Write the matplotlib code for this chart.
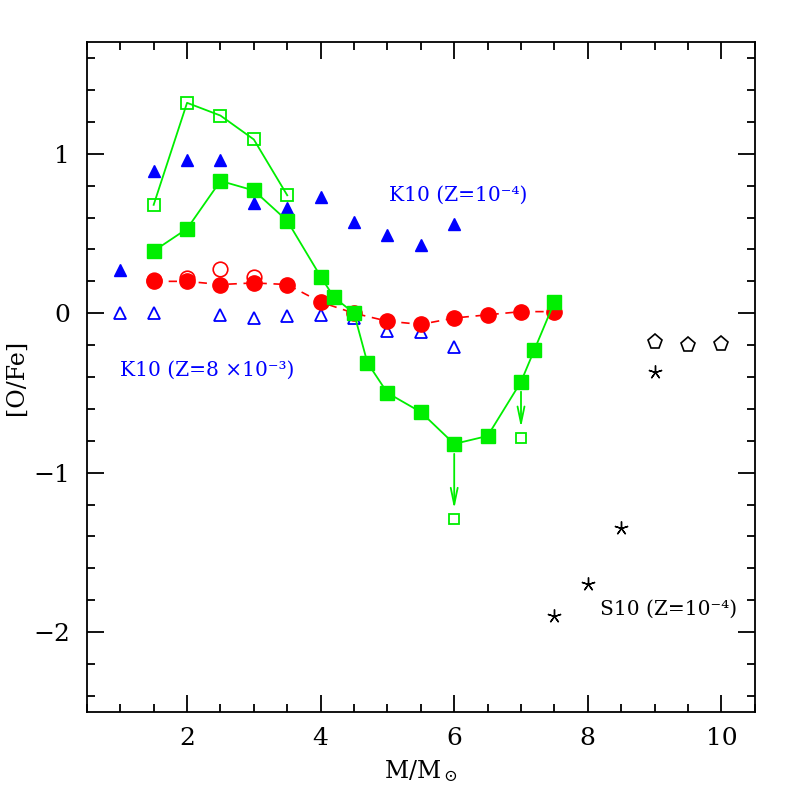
import numpy as np
import matplotlib
matplotlib.use("Agg")
import matplotlib.pyplot as plt
from matplotlib.ticker import MultipleLocator

plt.rcParams['font.family'] = ['DejaVu Serif']
plt.rcParams['mathtext.fontset'] = 'dejavuserif'

# green filled squares (joined)
m_gf = [1.5, 2, 2.5, 3, 3.5, 4, 4.2, 4.5, 4.7, 5, 5.5, 6, 6.5, 7, 7.2, 7.5]
o_gf = [0.39, 0.53, 0.83, 0.77, 0.58, 0.23, 0.10, 0.00, -0.31, -0.50, -0.62, -0.82, -0.77, -0.43, -0.23, 0.07]
# green open squares (joined)
m_go = [1.5, 2, 2.5, 3, 3.5]
o_go = [0.68, 1.32, 1.24, 1.09, 0.74]
# upper limits with arrows
m_lim = [6, 7]
o_lim_from = [-0.82, -0.43]
o_lim = [-1.29, -0.78]
# K10 Z=1e-4 (filled blue triangles)
m_bf = [1, 1.5, 2, 2.5, 3, 3.5, 4, 4.5, 5, 5.5, 6]
o_bf = [0.27, 0.89, 0.96, 0.96, 0.69, 0.66, 0.73, 0.57, 0.49, 0.43, 0.56]
# K10 Z=8e-3 (open blue triangles)
m_bo = [1, 1.5, 2.5, 3, 3.5, 4, 4.5, 5, 5.5, 6]
o_bo = [0.00, 0.00, -0.01, -0.03, -0.02, -0.01, -0.03, -0.11, -0.12, -0.21]
# red filled circles (dashed)
m_rf = [1.5, 2, 2.5, 3, 3.5, 4, 4.5, 5, 5.5, 6, 6.5, 7, 7.5]
o_rf = [0.20, 0.20, 0.18, 0.19, 0.18, 0.07, 0.00, -0.05, -0.07, -0.03, -0.01, 0.01, 0.01]
# red open circles
m_ro = [1.5, 2, 2.5, 3]
o_ro = [0.21, 0.22, 0.28, 0.23]
# S10 stars and pentagons
m_st = [7.5, 8, 8.5, 9]
o_st = [-1.90, -1.70, -1.35, -0.37]
m_pe = [9, 9.5, 10]
o_pe = [-0.18, -0.20, -0.19]

green = '#00ee00'
blue = '#0000ff'
red = '#ff0000'

fig = plt.figure(figsize=(7.97, 7.97), dpi=100)
ax = fig.add_axes([0.109, 0.107, 0.838, 0.840])

ax.plot(m_rf, o_rf, color=red, ls=(0, (5, 4)), lw=1.2, marker='o', ms=11, mfc=red, mec=red, zorder=3)
ax.plot(m_ro, o_ro, ls='none', marker='o', ms=10.5, mfc='none', mec=red, mew=1.2, zorder=3)
ax.plot(m_gf, o_gf, color=green, lw=1.3, marker='s', ms=10, mfc=green, mec=green, zorder=4)
ax.plot(m_go, o_go, color=green, lw=1.3, marker='s', ms=8.5, mfc='none', mec=green, mew=1.3, zorder=4)
ax.plot(m_lim, o_lim, ls='none', marker='s', ms=7.5, mfc='none', mec=green, mew=1.3, zorder=4)
for x, y0, y1 in zip(m_lim, o_lim_from, o_lim):
    ax.annotate('', xy=(x, y1 + 0.045), xytext=(x, y0 - 0.045),
                arrowprops=dict(arrowstyle='->,head_length=1.2,head_width=0.25', color=green, lw=1.3))
ax.plot(m_bf, o_bf, ls='none', marker='^', ms=8.5, mfc=blue, mec=blue, zorder=2)
ax.plot(m_bo, o_bo, ls='none', marker='^', ms=8.5, mfc='none', mec=blue, mew=1.3, zorder=2)
ax.plot(m_st, o_st, ls='none', marker=(5, 2, 0), ms=10, mec='black', mew=1.0)
ax.plot(m_pe, o_pe, ls='none', marker='p', ms=11, mfc='none', mec='black', mew=1.2)

ax.text(5.02, 0.74, 'K10 (Z=10⁻⁴)', color=blue, fontsize=14.5, va='center')
ax.text(0.99, -0.36, 'K10 (Z=8 ×10⁻³)', color=blue, fontsize=14.5, va='center')
ax.text(8.19, -1.855, 'S10 (Z=10⁻⁴)', color='black', fontsize=14.5, va='center')

ax.set_xlim(0.5, 10.5)
ax.set_ylim(-2.5, 1.7)
ax.xaxis.set_major_locator(MultipleLocator(2))
ax.xaxis.set_minor_locator(MultipleLocator(0.5))
ax.yaxis.set_major_locator(MultipleLocator(1))
ax.yaxis.set_minor_locator(MultipleLocator(0.2))
ax.tick_params(which='both', direction='in', top=True, right=True, labelsize=18, width=1.3)
ax.tick_params(axis='x', pad=11)
ax.tick_params(axis='y', pad=12)
ax.tick_params(which='major', length=12)
ax.tick_params(which='minor', length=6)
for s in ax.spines.values():
    s.set_linewidth(1.3)
ax.set_xlabel(r'M/M$_\odot$', fontsize=17, labelpad=6)
ax.set_ylabel('[O/Fe]', fontsize=17, labelpad=4)

fig.savefig('out.png', dpi=100)
